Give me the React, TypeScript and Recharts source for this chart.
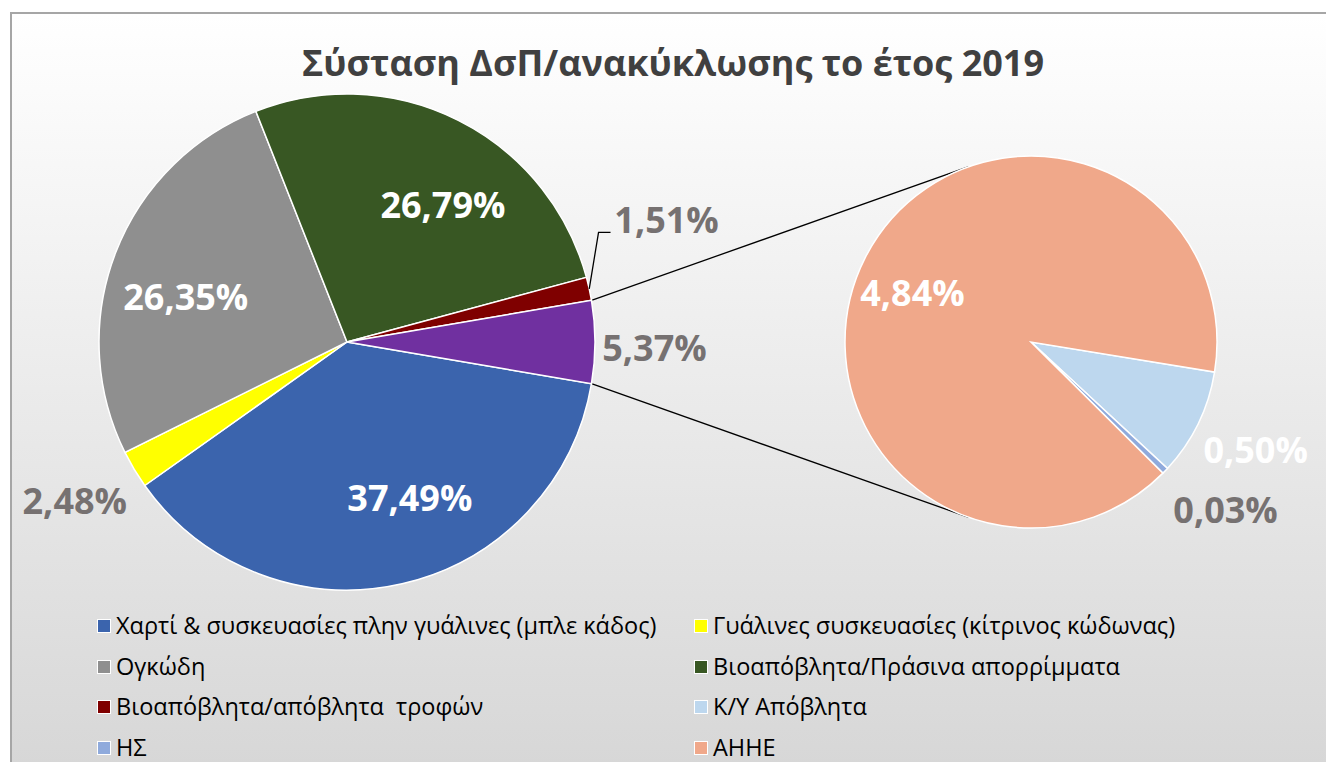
import { PieChart, Pie, Cell, Legend, Customized } from 'recharts';

const MAIN_NAMES = [
  'Χαρτί & συσκευασίες πλην γυάλινες (μπλε κάδος)',
  'Γυάλινες συσκευασίες (κίτρινος κώδωνας)',
  'Ογκώδη',
  'Βιοαπόβλητα/Πράσινα απορρίμματα',
  'Βιοαπόβλητα/απόβλητα  τροφών',
];
const MAIN_VALUES = [37.49, 2.48, 26.35, 26.79, 1.51];
const MAIN_COLORS = ['#3B64AD', '#FFFF00', '#8F8F8F', '#385723', '#7F0000'];

const SUB_NAMES = ['Κ/Υ Απόβλητα', 'ΗΣ', 'ΑΗΗΕ'];
const SUB_VALUES = [0.5, 0.03, 4.84];
const SUB_COLORS = ['#BDD7EE', '#8FAADC', '#F0A88A'];

const OTHER_COLOR = '#7030A0';

// label placement (radius factor, angle shift from slice middle, colour)
const MAIN_LABEL_R = [0.675, 1.27, 0.675, 0.675, 1.38, 1.24];
const MAIN_LABEL_SHIFT = [9.2, -0.7, 5.4, -8.3, 8.6, -1];
const MAIN_LABEL_FILL = ['#fff', '#767171', '#fff', '#fff', '#767171', '#767171'];
const SUB_LABEL_R = [1.34, 1.38, 0.69];
const SUB_LABEL_SHIFT = [0.4, 3.1, 4.5];
const SUB_LABEL_FILL = ['#fff', '#767171', '#fff'];

const MAIN = { cx: 347, cy: 342, r: 248 };
const SUB = { cx: 1031, cy: 342, r: 186 };
const RAD = Math.PI / 180;
const FONT = '"Open Sans", "Noto Sans", sans-serif';

const otherValue = SUB_VALUES.reduce((s, v) => s + v, 0);
const mainData = [
  ...MAIN_NAMES.map((name, i) => ({ name, value: MAIN_VALUES[i], color: MAIN_COLORS[i] })),
  { name: 'Άλλα', value: Number(otherValue.toFixed(2)), color: OTHER_COLOR },
];
const subData = SUB_NAMES.map((name, i) => ({ name, value: SUB_VALUES[i], color: SUB_COLORS[i] }));
const legendItems = [...MAIN_NAMES.map((n, i) => ({ n, c: MAIN_COLORS[i] })), ...SUB_NAMES.map((n, i) => ({ n, c: SUB_COLORS[i] }))];

const mainStart = -(otherValue / 100) * 180;
const subStart = -9.3;

const fmt = (v: number) => v.toFixed(2).replace('.', ',') + '%';

const polar = (cx: number, cy: number, r: number, a: number) => ({
  x: cx + r * Math.cos(-a * RAD),
  y: cy + r * Math.sin(-a * RAD),
});

function makeLabel(rs: number[], shifts: number[], fills: string[], leaderIndex: number) {
  return (props: any) => {
    const { cx, cy, midAngle, outerRadius, index, value } = props;
    const p = polar(cx, cy, outerRadius * rs[index], midAngle + shifts[index]);
    const text = (
      <text
        x={p.x}
        y={p.y}
        textAnchor="middle"
        dominantBaseline="central"
        fill={fills[index]}
        style={{ fontFamily: FONT, fontWeight: 700, fontSize: 36 }}
      >
        {fmt(value)}
      </text>
    );
    if (index !== leaderIndex) return <g key={`l-${index}`}>{text}</g>;
    const e = polar(cx, cy, outerRadius, midAngle);
    return (
      <g key={`l-${index}`}>
        <path d={`M${e.x},${e.y} L${p.x - 68},${p.y + 13} L${p.x - 56},${p.y + 13}`} stroke="#000" fill="none" strokeWidth={1.3} />
        {text}
      </g>
    );
  };
}

function tangent(px: number, py: number, upper: boolean) {
  const dx = px - SUB.cx;
  const dy = py - SUB.cy;
  const d = Math.sqrt(dx * dx + dy * dy);
  const th = Math.atan2(dy, dx);
  const al = Math.acos(SUB.r / d);
  const a = upper ? th + al : th - al;
  return { x: SUB.cx + SUB.r * Math.cos(a), y: SUB.cy + SUB.r * Math.sin(a) };
}

function Overlay() {
  const top = polar(MAIN.cx, MAIN.cy, MAIN.r, -mainStart);
  const bot = polar(MAIN.cx, MAIN.cy, MAIN.r, mainStart);
  const t1 = tangent(top.x, top.y, true);
  const t2 = tangent(bot.x, bot.y, false);
  return (
    <g>
      <text
        x={673}
        y={62}
        textAnchor="middle"
        dominantBaseline="central"
        fill="#404040"
        style={{ fontFamily: FONT, fontWeight: 700, fontSize: 36 }}
      >
        Σύσταση ΔσΠ/ανακύκλωσης το έτος 2019
      </text>
      <line x1={top.x} y1={top.y} x2={t1.x} y2={t1.y} stroke="#000" strokeWidth={1.3} />
      <line x1={bot.x} y1={bot.y} x2={t2.x} y2={t2.y} stroke="#000" strokeWidth={1.3} />
    </g>
  );
}

function renderLegend() {
  return (
    <div style={{ position: 'relative', width: 1326, height: 150, fontFamily: FONT, fontSize: 23.5, lineHeight: 1, color: '#000' }}>
      {legendItems.map((it, i) => {
        const col = i % 2;
        const row = Math.floor(i / 2);
        return (
          <div
            key={it.n}
            style={{
              position: 'absolute',
              left: col === 0 ? 97 : 694,
              top: row * 40.5 + 8,
              height: 24,
              display: 'flex',
              alignItems: 'center',
              whiteSpace: 'pre',
            }}
          >
            <span style={{ width: 12, height: 12, background: it.c, border: '1px solid #fff', marginRight: 5, display: 'inline-block' }} />
            <span style={{ lineHeight: 1 }}>{it.n}</span>
          </div>
        );
      })}
    </div>
  );
}

export default function App() {
  return (
    <div style={{ position: 'relative', width: 1326, height: 762, overflow: 'hidden' }}>
      <style>{'body{margin:0;}'}</style>
      <div
        style={{
          position: 'absolute',
          left: 10,
          top: 12,
          width: 1330,
          height: 770,
          border: '2px solid #A6A6A6',
          background: 'linear-gradient(#ffffff, #d6d6d6)',
        }}
      />
      <div style={{ position: 'absolute', left: 0, top: 0 }}>
        <PieChart width={1326} height={762} margin={{ top: 0, right: 0, bottom: 0, left: 0 }}>
          <Pie
            data={mainData}
            dataKey="value"
            cx={MAIN.cx}
            cy={MAIN.cy}
            outerRadius={MAIN.r}
            startAngle={mainStart}
            endAngle={mainStart - 360}
            stroke="#fff"
            strokeWidth={1.5}
            label={makeLabel(MAIN_LABEL_R, MAIN_LABEL_SHIFT, MAIN_LABEL_FILL, 4)}
            labelLine={false}
            isAnimationActive={false}
          >
            {mainData.map((d, i) => (
              <Cell key={`m-${i}`} fill={d.color} />
            ))}
          </Pie>
          <Pie
            data={subData}
            dataKey="value"
            cx={SUB.cx}
            cy={SUB.cy}
            outerRadius={SUB.r}
            startAngle={subStart}
            endAngle={subStart - 360}
            stroke="#fff"
            strokeWidth={1.5}
            label={makeLabel(SUB_LABEL_R, SUB_LABEL_SHIFT, SUB_LABEL_FILL, -1)}
            labelLine={false}
            isAnimationActive={false}
          >
            {subData.map((d, i) => (
              <Cell key={`s-${i}`} fill={d.color} />
            ))}
          </Pie>
          <Customized component={Overlay} />
          <Legend content={renderLegend} wrapperStyle={{ position: 'absolute', left: 0, top: 606, width: 1326, height: 150 }} />
        </PieChart>
      </div>
    </div>
  );
}
